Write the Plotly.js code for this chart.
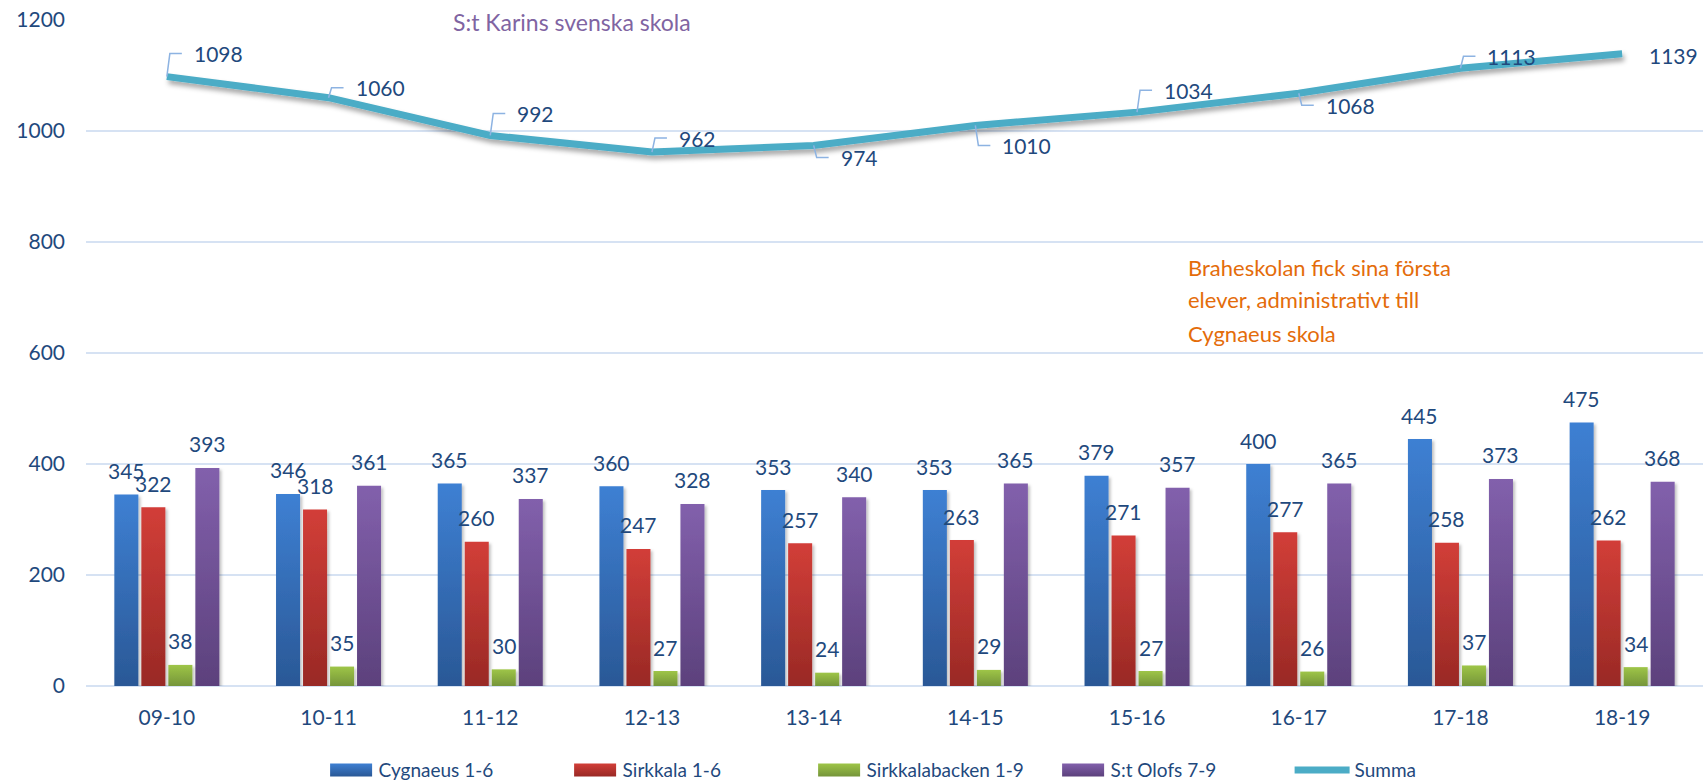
<!DOCTYPE html>
<html>
<head>
<meta charset="utf-8">
<script src="https://cdn.plot.ly/plotly-3.0.1.min.js"></script>
<style>
  html, body { margin: 0; padding: 0; background: #ffffff; }
  #chart { width: 1706px; height: 782px; }
</style>
</head>
<body>
<div id="chart"></div>
<script>
// ---- data ----
const categories = ['09-10', '10-11', '11-12', '12-13', '13-14', '14-15', '15-16', '16-17', '17-18', '18-19'];
const cygnaeus = [345, 346, 365, 360, 353, 353, 379, 400, 445, 475];
const sirkkala = [322, 318, 260, 247, 257, 263, 271, 277, 258, 262];
const sirkkalabacken = [38, 35, 30, 27, 24, 29, 27, 26, 37, 34];
const stOlofs = [393, 361, 337, 328, 340, 365, 357, 365, 373, 368];
const summa = [1098, 1060, 992, 962, 974, 1010, 1034, 1068, 1113, 1139];
const seriesNames = ['Cygnaeus 1-6', 'Sirkkala 1-6', 'Sirkkalabacken 1-9', 'S:t Olofs 7-9', 'Summa'];
const noteKarin = 'S:t Karins svenska skola';
const noteBrahe = ['Braheskolan fick sina första', 'elever, administrativt till', 'Cygnaeus skola'];

// ---- styling (label placement offsets in pixels, colours) ----
const sumLabelDy = [-23, -10, -22, -14, 12, 20, -22, 12, -12, 2];
const sumLeader = [true, true, true, true, true, true, true, true, true, false];
const BAR_SLOT_PX = 27;
const FONT = 'Lato, "Open Sans", sans-serif';
const TXT = '#1F497D';
const barColors = ['#3570BE', '#B9352F', '#8AB03F', '#6F4E95'];
const gradStops = [
  ['#3E80D3', '#2A5896'],
  ['#D23E38', '#992925'],
  ['#9EC547', '#75953A'],
  ['#8260AC', '#5C417C']
];

const barSeries = [cygnaeus, sirkkala, sirkkalabacken, stOlofs];
const traces = barSeries.map((vals, k) => ({
  type: 'bar',
  name: seriesNames[k],
  x: categories,
  y: vals,
  marker: { color: barColors[k], line: { width: 0 } },
  hoverinfo: 'x+y+name'
}));
traces.push({
  type: 'scatter',
  mode: 'lines',
  name: seriesNames[4],
  x: categories,
  y: summa,
  line: { color: '#4BACC6', width: 7, shape: 'linear' },
  hoverinfo: 'x+y+name'
});

const annotations = [];
const shapes = [];
// bar value labels
barSeries.forEach((vals, k) => {
  vals.forEach((v, i) => {
    annotations.push({
      x: categories[i], y: v, xref: 'x', yref: 'y',
      text: String(v), showarrow: false,
      xanchor: 'center', yanchor: 'middle',
      xshift: (k - 1.5) * BAR_SLOT_PX, yshift: 24,
      font: { family: FONT, size: 21, color: TXT }
    });
  });
});
// sum labels with leader lines
summa.forEach((v, i) => {
  const dy = sumLabelDy[i];
  annotations.push({
    x: categories[i], y: v, xref: 'x', yref: 'y',
    text: String(v), showarrow: false,
    xanchor: 'left', yanchor: 'middle',
    xshift: 25, yshift: -dy,
    font: { family: FONT, size: 21, color: TXT }
  });
  if (sumLeader[i]) {
    shapes.push({
      type: 'path', xref: 'x', yref: 'y',
      xsizemode: 'pixel', ysizemode: 'pixel',
      xanchor: categories[i], yanchor: v,
      path: 'M0,0 L3,' + (-dy) + ' L15,' + (-dy),
      line: { color: '#8DB3E2', width: 1.5 }
    });
  }
});
// notes
annotations.push({
  xref: 'paper', yref: 'paper', x: 0.3006, y: 0.997,
  xanchor: 'center', yanchor: 'middle', showarrow: false,
  text: noteKarin, font: { family: FONT, size: 23, color: '#8064A2' }
});
const braheY = [0.629, 0.5796, 0.530];
noteBrahe.forEach((t, j) => annotations.push({
  xref: 'paper', yref: 'paper', x: 0.680, y: braheY[j],
  xanchor: 'left', yanchor: 'middle', showarrow: false,
  text: t, font: { family: FONT, size: 22, color: '#E46C0A' }
}));

const layout = {
  width: 1706, height: 782,
  margin: { l: 86, r: 3, t: 20, b: 96, autoexpand: false },
  paper_bgcolor: '#ffffff', plot_bgcolor: '#ffffff',
  barmode: 'group', bargap: 0.332, bargroupgap: 0.11,
  font: { family: FONT, size: 20, color: TXT },
  showlegend: true,
  legend: {
    orientation: 'h', x: 0.518, xanchor: 'center',
    yref: 'container', y: 0.0153, yanchor: 'middle',
    font: { family: FONT, size: 19, color: TXT },
    itemwidth: 55, traceorder: 'normal',
    entrywidth: 174, entrywidthmode: 'pixels'
  },
  xaxis: {
    type: 'category', showgrid: false, zeroline: false, showline: false,
    ticks: '', ticklabelstandoff: 17,
    tickfont: { family: FONT, size: 21, color: TXT }
  },
  yaxis: {
    range: [0, 1200], dtick: 200, tick0: 0,
    showgrid: true, gridcolor: '#D6E2F3', gridwidth: 2,
    zeroline: true, zerolinecolor: '#D6E2F3', zerolinewidth: 2,
    showline: false, ticks: '', ticklabelstandoff: 20,
    tickfont: { family: FONT, size: 21, color: TXT }
  },
  annotations: annotations,
  shapes: shapes
};

Plotly.newPlot('chart', traces, layout, { displayModeBar: false, staticPlot: true }).then(gd => {
  const ns = 'http://www.w3.org/2000/svg';
  const svg = gd.querySelector('svg.main-svg');
  let defs = svg.querySelector('defs');
  if (!defs) { defs = document.createElementNS(ns, 'defs'); svg.insertBefore(defs, svg.firstChild); }
  gradStops.forEach((st, k) => {
    const g = document.createElementNS(ns, 'linearGradient');
    g.setAttribute('id', 'barGrad' + k);
    g.setAttribute('x1', '0'); g.setAttribute('y1', '0');
    g.setAttribute('x2', '0'); g.setAttribute('y2', '1');
    [[0, st[0]], [1, st[1]]].forEach(([o, c]) => {
      const s = document.createElementNS(ns, 'stop');
      s.setAttribute('offset', o); s.setAttribute('stop-color', c);
      g.appendChild(s);
    });
    defs.appendChild(g);
  });
  const mkShadow = (id, dx, dy, sd, op) => {
    const f = document.createElementNS(ns, 'filter');
    f.setAttribute('id', id);
    f.setAttribute('x', '-20%'); f.setAttribute('y', '-20%');
    f.setAttribute('width', '140%'); f.setAttribute('height', '160%');
    const d = document.createElementNS(ns, 'feDropShadow');
    d.setAttribute('dx', dx); d.setAttribute('dy', dy);
    d.setAttribute('stdDeviation', sd);
    d.setAttribute('flood-color', '#000'); d.setAttribute('flood-opacity', op);
    f.appendChild(d);
    defs.appendChild(f);
  };
  mkShadow('lineShadow', 2, 4, 2.5, 0.35);
  mkShadow('barShadow', 2, 2, 1.5, 0.25);
  gd.querySelectorAll('.barlayer .trace').forEach((tr, k) => {
    tr.querySelectorAll('path').forEach(p => {
      p.style.fill = 'url(#barGrad' + k + ')';
      p.setAttribute('filter', 'url(#barShadow)');
    });
  });
  gd.querySelectorAll('.scatterlayer .js-line').forEach(p => {
    p.setAttribute('filter', 'url(#lineShadow)');
  });
  gd.querySelectorAll('.legend .traces').forEach((tr, k) => {
    if (k < 4) tr.querySelectorAll('.legendpoints path').forEach(p => {
      p.style.fill = 'url(#barGrad' + k + ')';
      p.setAttribute('d', 'M-16,6.5H26V-6.5H-16Z');
    });
  });
});
</script>
</body>
</html>
